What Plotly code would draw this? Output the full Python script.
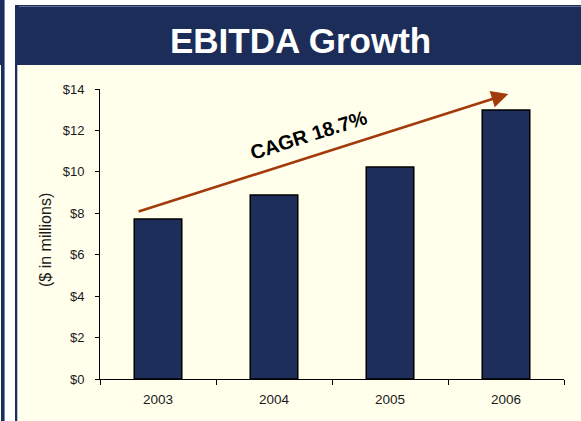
import plotly.graph_objects as go

years = ["2003", "2004", "2005", "2006"]
ebitda = [7.72, 8.88, 10.23, 12.99]
y_ticks = [0, 2, 4, 6, 8, 10, 12, 14]
y_tick_text = ["$0", "$2", "$4", "$6", "$8", "$10", "$12", "$14"]
title_text = "EBITDA Growth"
y_title = "($ in millions)"
cagr_label = "CAGR 18.7%"
arrow_start = (-0.18, 8.06)
arrow_end = (3.02, 13.76)

W, H = 581, 421
L, R, T, B = 100, 17, 89, 42
PW, PH = W - L - R, H - T - B

def X(px):
    return (px - L) / PW

def Y(py):
    return (H - B - py) / PH

NAVY = "#1B2D58"
BEIGE = "#FFFFEC"
RUST = "#A33A0B"
FONT = "Arial, Liberation Sans, sans-serif"
TXT = "#1a1a1a"

fig = go.Figure()
fig.add_trace(go.Bar(
    x=years, y=ebitda,
    marker=dict(color="#1C2E59", line=dict(color="black", width=1.5)),
    hoverinfo="skip",
))

shapes = []
def rect(x0, y0, x1, y1, color):
    shapes.append(dict(type="rect", xref="paper", yref="paper",
                       x0=X(x0), x1=X(x1), y0=Y(y1), y1=Y(y0),
                       fillcolor=color, line=dict(width=0), layer="below"))

# previous panel sliver
rect(0, 0, 4, 65, NAVY)
rect(0, 65, 1, 421, BEIGE)
rect(1, 65, 4, 421, NAVY)
rect(4, 0, 5, 421, "#7088B4")
# main panel
rect(15, 5, 581, 65, NAVY)
rect(19, 6, 581, 7, "#5C6F96")
rect(15, 5, 17, 421, NAVY)
rect(17, 65, 581, 421, BEIGE)
rect(17, 65, 18, 421, "#B8C4DC")

annotations = [
    dict(text=title_text, xref="paper", yref="paper", x=X(300), y=Y(41),
         showarrow=False, xanchor="center", yanchor="middle",
         font=dict(family=FONT, size=35, color="white", weight="bold")),
    dict(text="", xref="x", yref="y", axref="x", ayref="y",
         x=arrow_end[0], y=arrow_end[1], ax=arrow_start[0], ay=arrow_start[1],
         showarrow=True, arrowhead=2, arrowsize=1.3, arrowwidth=2.6,
         arrowcolor=RUST, standoff=0, startstandoff=0),
    dict(text="<b>" + cagr_label + "</b>", xref="x", yref="y", x=1.30, y=11.78,
         showarrow=False, textangle=-17.6, xanchor="center", yanchor="middle",
         font=dict(family=FONT, size=20, color="black")),
    dict(text=y_title, xref="paper", yref="paper", x=X(45), y=Y(240),
         showarrow=False, textangle=-90, xanchor="center", yanchor="middle",
         font=dict(family=FONT, size=16, color=TXT)),
]

fig.update_layout(
    width=W, height=H,
    margin=dict(l=L, r=R, t=T, b=B, pad=0),
    paper_bgcolor="white", plot_bgcolor="rgba(0,0,0,0)",
    showlegend=False, bargap=0.59,
    shapes=shapes, annotations=annotations,
    font=dict(family=FONT, size=12, color=TXT),
    xaxis=dict(type="category", range=[-0.5, 3.5], showline=True,
               linecolor="black", linewidth=1, ticks="outside",
               tickson="boundaries", ticklen=5, tickcolor="black",
               showgrid=False, zeroline=False, ticklabelstandoff=8,
               tickfont=dict(family=FONT, size=13.5, color=TXT)),
    yaxis=dict(range=[0, 14], tickvals=y_ticks, ticktext=y_tick_text,
               showline=True, linecolor="black", linewidth=1,
               ticks="outside", ticklen=4, tickcolor="black",
               showgrid=False, zeroline=False, ticklabelstandoff=8,
               tickfont=dict(family=FONT, size=13, color=TXT)),
)

fig.write_html("out.html", config={"displayModeBar": False},
               post_script="document.body.style.margin='0';document.body.style.padding='0';")
